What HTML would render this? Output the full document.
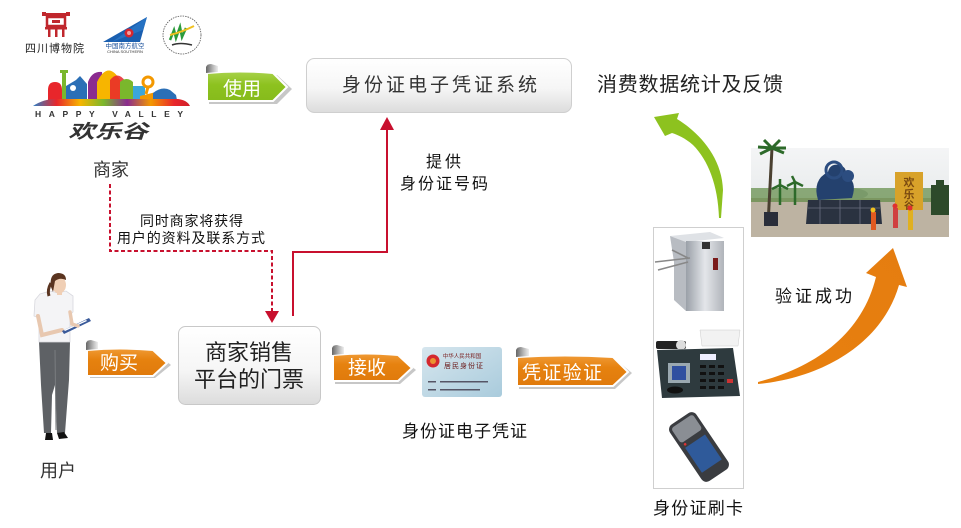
<!DOCTYPE html>
<html><head><meta charset="utf-8">
<style>
html,body{margin:0;padding:0;background:#fff;}
svg{display:block;}
text{font-family:"Liberation Sans","Noto Sans CJK SC",sans-serif;}
</style></head>
<body>
<svg width="961" height="528" viewBox="0 0 961 528" xmlns="http://www.w3.org/2000/svg">
<defs>
  <linearGradient id="boxg" x1="0" y1="0" x2="0" y2="1">
    <stop offset="0" stop-color="#ffffff"/>
    <stop offset="0.55" stop-color="#f6f6f6"/>
    <stop offset="1" stop-color="#dcdcdc"/>
  </linearGradient>
  <linearGradient id="og" x1="0" y1="0" x2="0" y2="1">
    <stop offset="0" stop-color="#f09a35"/>
    <stop offset="0.4" stop-color="#e6820f"/>
    <stop offset="1" stop-color="#e07a0c"/>
  </linearGradient>
  <linearGradient id="gg" x1="0" y1="0" x2="0" y2="1">
    <stop offset="0" stop-color="#a8d24a"/>
    <stop offset="0.45" stop-color="#8dc21f"/>
    <stop offset="1" stop-color="#86bb1c"/>
  </linearGradient>
  <linearGradient id="curl" x1="0" y1="0" x2="1" y2="0">
    <stop offset="0" stop-color="#666"/>
    <stop offset="0.6" stop-color="#bbb"/>
    <stop offset="1" stop-color="#eee"/>
  </linearGradient>
  <linearGradient id="oarrow" x1="0" y1="1" x2="1" y2="0">
    <stop offset="0" stop-color="#e8800e"/>
    <stop offset="1" stop-color="#e57d10"/>
  </linearGradient>
  <linearGradient id="silver" x1="0" y1="0" x2="1" y2="0">
    <stop offset="0" stop-color="#9aa0a8"/>
    <stop offset="0.5" stop-color="#e4e6ea"/>
    <stop offset="1" stop-color="#b0b4ba"/>
  </linearGradient>
  <linearGradient id="card" x1="0" y1="0" x2="1" y2="1">
    <stop offset="0" stop-color="#d6e6ee"/>
    <stop offset="1" stop-color="#a9cbdc"/>
  </linearGradient>
  <linearGradient id="sky" x1="0" y1="0" x2="0" y2="1">
    <stop offset="0" stop-color="#f4f5f6"/>
    <stop offset="1" stop-color="#dfe3e4"/>
  </linearGradient>
  <linearGradient id="hvbar" x1="0" y1="0" x2="1" y2="0">
    <stop offset="0" stop-color="#2b7fc6"/>
    <stop offset="0.15" stop-color="#e8262b"/>
    <stop offset="0.3" stop-color="#f7b500"/>
    <stop offset="0.45" stop-color="#7ab72c"/>
    <stop offset="0.6" stop-color="#8a2b8f"/>
    <stop offset="0.75" stop-color="#f39800"/>
    <stop offset="0.9" stop-color="#e8262b"/>
    <stop offset="1" stop-color="#d0202a"/>
  </linearGradient>
</defs>

<!-- ===== Logos top-left ===== -->
<g fill="#c0272d">
  <rect x="44" y="13" width="24" height="3"/>
  <rect x="42" y="12" width="4" height="4"/>
  <rect x="66" y="12" width="4" height="4"/>
  <rect x="47" y="17" width="18" height="9" fill="none" stroke="#c0272d" stroke-width="2.5"/>
  <rect x="52" y="20" width="8" height="3"/>
  <rect x="45" y="27" width="22" height="2.5"/>
  <rect x="48" y="29" width="2.5" height="8"/>
  <rect x="55" y="29" width="2.5" height="8"/>
  <rect x="62" y="29" width="2.5" height="8"/>
</g>
<text x="55" y="52" font-size="11" text-anchor="middle" fill="#222" letter-spacing="1">四川博物院</text>
<polygon points="103,42 147,17 140,42" fill="#1a5fb0"/>
<polygon points="112,42 147,17 143,30" fill="#2e7fd0" opacity="0.6"/>
<circle cx="129" cy="33" r="4.5" fill="#d7262e"/>
<circle cx="129" cy="33" r="2" fill="#f4a0a0"/>
<text x="125" y="48" font-size="6.5" text-anchor="middle" fill="#1a4f9a">中国南方航空</text>
<text x="125" y="53" font-size="4" text-anchor="middle" fill="#333">CHINA SOUTHERN</text>
<circle cx="182" cy="35" r="19" fill="#fff" stroke="#555" stroke-width="0.8" stroke-dasharray="1.5,1"/>
<path d="M170,40 L174,30 L176,38 L180,27 L182,37 L186,28" stroke="#2c9b3c" stroke-width="2.5" fill="none"/>
<path d="M170,35 Q182,32 194,26" stroke="#f0c020" stroke-width="2" fill="none"/>
<path d="M172,45 Q180,42 192,45" stroke="#333" stroke-width="1.5" fill="none"/>

<!-- Happy Valley logo -->
<g>
  <path d="M48,105 L48,90 Q48,82 55,82 Q62,82 62,90 L62,105 Z" fill="#e8262b"/>
  <rect x="62" y="72" width="4" height="33" fill="#7ab72c"/>
  <rect x="60" y="70" width="8" height="3" fill="#7ab72c"/>
  <path d="M66,105 L66,86 L76,80 L80,76 L87,84 L87,105 Z" fill="#2b6fb6"/>
  <circle cx="73" cy="88" r="3" fill="#fff"/>
  <path d="M88,105 L88,82 Q92,71 102,72 L104,105 Z" fill="#8a2b8f"/>
  <path d="M97,105 L97,82 Q108,60 120,80 L120,105 Z" fill="#f7b500"/>
  <path d="M110,105 L110,80 Q118,70 126,82 L126,105 Z" fill="#e8262b" opacity="0.85"/>
  <path d="M120,105 L120,82 Q126,76 133,82 L133,105 Z" fill="#7ab72c"/>
  <rect x="133" y="86" width="12" height="19" fill="#3aa6dc"/>
  <path d="M140,105 L140,96 L156,92 L156,105 Z" fill="#f39800"/>
  <circle cx="148" cy="82" r="5" fill="none" stroke="#f39800" stroke-width="3"/>
  <path d="M148,87 L146,94" stroke="#f39800" stroke-width="3"/>
  <path d="M153,105 L153,93 Q162,86 170,90 L176,95 L178,105 Z" fill="#2b6fb6"/>
  <path d="M33,106 Q45,98 60,99 L178,99 Q187,100 190,106 Z" fill="url(#hvbar)"/>
</g>
<text x="35" y="117" font-family="Liberation Serif,serif" font-size="8.5" font-weight="bold" fill="#333" textLength="148" lengthAdjust="spacing">HAPPY VALLEY</text>
<text transform="translate(108,138) scale(1.4,1)" x="0" y="0" font-size="19" font-weight="bold" font-style="italic" text-anchor="middle" fill="#333">欢乐谷</text>

<text x="111" y="176" font-size="18" text-anchor="middle" fill="#333">商家</text>

<!-- ===== 使用 tag (green) ===== -->
<g>
  <polygon points="209,75 277,75 292,89 277,104 209,104" fill="#999" opacity="0.55"/>
  <path d="M207,73 Q240,70 273,73 L287,87 L273,101 L207,101 Z" fill="url(#gg)" stroke="#fff" stroke-width="2"/>
  <path d="M206,73 L206,67 Q207,64 211,64 L218,66 L218,72 Z" fill="url(#curl)"/>
  <text x="242" y="95" font-size="19" text-anchor="middle" fill="#fff">使用</text>
</g>

<!-- ===== Top box ===== -->
<rect x="306.5" y="58.5" width="265" height="54" rx="8" fill="url(#boxg)" stroke="#cfcfcf" stroke-width="1"/>
<text x="342" y="91" font-size="19" fill="#333" textLength="195" lengthAdjust="spacing">身份证电子凭证系统</text>

<text x="597" y="91" font-size="20" fill="#222" textLength="186" lengthAdjust="spacing">消费数据统计及反馈</text>

<!-- ===== Red connectors ===== -->
<path d="M110,184 L110,251 L272,251 L272,312" fill="none" stroke="#c8102e" stroke-width="2" stroke-dasharray="4,2.5"/>
<polygon points="265,311 279,311 272,323" fill="#c8102e"/>
<path d="M293,316 L293,252 L387,252 L387,128" fill="none" stroke="#c8102e" stroke-width="2"/>
<polygon points="380,130 394,130 387,117" fill="#c8102e"/>

<text x="426" y="167" font-size="16" fill="#111" textLength="35" lengthAdjust="spacing">提供</text>
<text x="400" y="189" font-size="16" fill="#111" textLength="88" lengthAdjust="spacing">身份证号码</text>

<text x="140" y="226" font-size="14" fill="#111" textLength="103" lengthAdjust="spacing">同时商家将获得</text>
<text x="117" y="243" font-size="14" fill="#111" textLength="148" lengthAdjust="spacing">用户的资料及联系方式</text>

<!-- ===== Person ===== -->
<g>
  <path d="M39,342 L70,342 L69,380 L65,433 L57,433 L55,385 L52,395 L51,433 L44,433 L41,385 Z" fill="#5e6165"/>
  <path d="M55,350 L56,430" stroke="#7a7d80" stroke-width="1"/>
  <path d="M46,433 L52,433 L53,440 L45,440 Z" fill="#111"/>
  <path d="M57,433 L64,432 L68,438 L59,439 Z" fill="#111"/>
  <path d="M40,294 L50,291 L58,293 L66,291 L73,296 L73,312 L70,315 L70,342 L39,342 L39,318 L34,316 L35,300 Z" fill="#f4f4f6" stroke="#d8d8de" stroke-width="0.8"/>
  <path d="M38,316 L42,335 L62,330" stroke="#e8c8b0" stroke-width="4" fill="none" stroke-linecap="round"/>
  <polygon points="62,331 89,318 91,321 64,334" fill="#3a5a9a"/>
  <polygon points="64,330 86,320 87,321 65,331" fill="#fff"/>
  <path d="M70,312 L72,324 L78,326" stroke="#e8c8b0" stroke-width="3.5" fill="none" stroke-linecap="round"/>
  <ellipse cx="59" cy="285" rx="7" ry="8.5" fill="#f0cfb5"/>
  <path d="M51,287 Q49,274 58,273 Q66,273 66,280 Q60,277 55,281 L53,292 Z" fill="#5a3420"/>
  <path d="M51,283 Q47,290 49,296" stroke="#5a3420" stroke-width="3" fill="none"/>
  <rect x="57" y="291" width="5" height="4" fill="#f0cfb5"/>
</g>
<text x="58" y="477" font-size="18" text-anchor="middle" fill="#333">用户</text>

<!-- ===== 购买 tag ===== -->
<g>
  <polygon points="90,352 155,352 171,365 155,378 90,378" fill="#999" opacity="0.55"/>
  <path d="M87,350 Q120,347 153,350 L167,363 L153,376 L87,376 Z" fill="url(#og)" stroke="#fff" stroke-width="2"/>
  <path d="M86,350 L86,343 Q87,340 91,340 L98,342 L98,349 Z" fill="url(#curl)"/>
  <text x="119" y="369" font-size="19" text-anchor="middle" fill="#fff">购买</text>
</g>

<!-- ===== Box 2 ===== -->
<rect x="178.5" y="326.5" width="142" height="78" rx="7" fill="url(#boxg)" stroke="#c8c8c8" stroke-width="1"/>
<text x="249" y="360" font-size="22" text-anchor="middle" fill="#222">商家销售</text>
<text x="249" y="387" font-size="22" text-anchor="middle" fill="#222">平台的门票</text>

<!-- ===== 接收 tag ===== -->
<g>
  <polygon points="335,357 400,357 416,370 400,384 335,384" fill="#999" opacity="0.55"/>
  <path d="M333,355 Q366,352 398,355 L412,368 L398,381 L333,381 Z" fill="url(#og)" stroke="#fff" stroke-width="2"/>
  <path d="M332,355 L332,348 Q333,345 337,345 L344,347 L344,354 Z" fill="url(#curl)"/>
  <text x="367" y="374" font-size="19" text-anchor="middle" fill="#fff">接收</text>
</g>

<!-- ===== ID card ===== -->
<g>
  <rect x="422" y="347" width="80" height="50" rx="3" fill="url(#card)"/>
  <circle cx="433" cy="361" r="6.5" fill="#d4282e"/>
  <circle cx="433" cy="361" r="3" fill="#f5c030" opacity="0.7"/>
  <text x="462" y="358" font-size="5.5" text-anchor="middle" fill="#7a2020">中华人民共和国</text>
  <text x="464" y="368" font-size="7" text-anchor="middle" fill="#6a1818" letter-spacing="1">居民身份证</text>
  <rect x="440" y="381" width="48" height="1.5" fill="#556"/>
  <rect x="440" y="389" width="40" height="1.5" fill="#556"/>
  <rect x="428" y="381" width="8" height="1.5" fill="#556"/>
  <rect x="428" y="389" width="8" height="1.5" fill="#556"/>
</g>
<text x="402" y="437" font-size="17" fill="#111" textLength="125" lengthAdjust="spacing">身份证电子凭证</text>

<!-- ===== 凭证验证 tag ===== -->
<g>
  <polygon points="519,359 615,359 632,373 615,389 519,389" fill="#999" opacity="0.55"/>
  <path d="M517,357 Q565,354 613,357 L628,372 L613,386 L517,386 Z" fill="url(#og)" stroke="#fff" stroke-width="2"/>
  <path d="M516,357 L516,350 Q517,347 521,347 L529,349 L529,356 Z" fill="url(#curl)"/>
  <text x="522" y="379" font-size="19" fill="#fff" textLength="80" lengthAdjust="spacing">凭证验证</text>
</g>

<!-- ===== Devices panel ===== -->
<rect x="653.5" y="227.5" width="90" height="261" fill="#fff" stroke="#cfcfcf" stroke-width="1"/>
<g>
  <polygon points="670,236 710,232 724,238 686,242" fill="#dfe2e6"/>
  <rect x="686" y="241" width="38" height="70" fill="url(#silver)"/>
  <polygon points="670,236 686,242 686,311 674,300 674,262" fill="#b8bcc2"/>
  <rect x="702" y="242" width="8" height="7" fill="#333"/>
  <rect x="713" y="258" width="5" height="12" fill="#7a1a1a"/>
  <path d="M655,262 L690,258 M658,270 L688,262 M672,250 L688,258" stroke="#888" stroke-width="1.6"/>
</g>
<g>
  <polygon points="700,330 740,330 738,346 702,346" fill="#f2f2f2" stroke="#ccc" stroke-width="0.5"/>
  <rect x="656" y="341" width="30" height="8" rx="2" fill="#222"/>
  <circle cx="681" cy="345" r="5" fill="#ddd"/>
  <path d="M657,350 L733,348 L740,396 L662,398 Z" fill="#2e3a3e"/>
  <rect x="700" y="354" width="16" height="6" fill="#eef"/>
  <rect x="668" y="363" width="22" height="20" fill="#9aa8b0"/>
  <rect x="672" y="366" width="14" height="14" fill="#3050a0"/>
  <g fill="#111">
    <rect x="700" y="365" width="6" height="3"/><rect x="709" y="365" width="6" height="3"/><rect x="718" y="365" width="6" height="3"/>
    <rect x="700" y="372" width="6" height="3"/><rect x="709" y="372" width="6" height="3"/><rect x="718" y="372" width="6" height="3"/>
    <rect x="700" y="379" width="6" height="3"/><rect x="709" y="379" width="6" height="3"/><rect x="718" y="379" width="6" height="3"/>
    <rect x="700" y="386" width="6" height="3"/><rect x="709" y="386" width="6" height="3"/><rect x="718" y="386" width="6" height="3"/>
  </g>
  <rect x="727" y="379" width="6" height="4" fill="#c33"/>
  <ellipse cx="675" cy="390" rx="8" ry="3.5" fill="#111"/>
</g>
<!-- handheld -->
<g transform="rotate(-34 699 447)">
  <rect x="683" y="413" width="32" height="68" rx="6" fill="#3a3c40"/>
  <rect x="686" y="416" width="26" height="18" rx="3" fill="#8a8e94"/>
  <rect x="687" y="440" width="24" height="30" fill="#2f5a9a"/>
  <circle cx="689" cy="437" r="1.3" fill="#d33"/>
</g>
<text x="653" y="514" font-size="17" fill="#111" textLength="90" lengthAdjust="spacing">身份证刷卡</text>

<!-- ===== Green curved arrow ===== -->
<path d="M654,117 L679,113 L677,119 C700,133 722,158 723,190 L721,218 L719,218 C718,185 708,160 693,145 C685,138 678,135 672,133 L665,136 Z" fill="#8dc21f"/>

<!-- ===== Photo ===== -->
<g>
  <rect x="751" y="148" width="198" height="89" fill="url(#sky)"/>
  <rect x="751" y="198" width="198" height="39" fill="#bdb3a2"/>
  <rect x="751" y="188" width="198" height="14" fill="#5f8a45" opacity="0.7"/>
  <ellipse cx="848" cy="194" rx="20" ry="6" fill="#7a9a6a"/>
  <path d="M772,148 L768,225" stroke="#4a4030" stroke-width="3"/>
  <path d="M772,148 l-12,6 M772,148 l12,5 M772,148 l-8,-8 M772,148 l8,-8 M772,148 l-14,-1 M772,148 l14,0" stroke="#2d6a2a" stroke-width="3"/>
  <path d="M780,185 l-8,4 M780,185 l8,4 M780,185 l0,-6 M780,185 L780,205" stroke="#2d6a2a" stroke-width="2.5"/>
  <path d="M795,182 l-8,4 M795,182 l8,4 M795,182 l-3,-6 M795,182 L795,205" stroke="#2d6a2a" stroke-width="2.5"/>
  <rect x="764" y="212" width="14" height="14" fill="#2a2e3a"/>
  <path d="M818,200 Q812,180 828,172 Q830,163 840,165 Q848,168 845,176 Q858,180 852,198 Z" fill="#24416e"/>
  <circle cx="834" cy="170" r="8" fill="none" stroke="#2c4d80" stroke-width="3"/>
  <circle cx="848" cy="176" r="6" fill="#2c4d80"/>
  <path d="M808,200 L880,200 L882,224 L806,224 Z" fill="#2a3240"/>
  <path d="M808,208 L880,208 M820,200 L820,224 M840,200 L840,224 M860,200 L860,224" stroke="#6a7080" stroke-width="0.8"/>
  <rect x="895" y="172" width="28" height="38" fill="#d8a22a"/>
  <text x="909" y="186" font-size="11" font-weight="bold" text-anchor="middle" fill="#7a4a10">欢</text>
  <text x="909" y="198" font-size="11" font-weight="bold" text-anchor="middle" fill="#7a4a10">乐</text>
  <text x="909" y="209" font-size="10" font-weight="bold" text-anchor="middle" fill="#7a4a10">谷</text>
  <rect x="931" y="185" width="18" height="30" fill="#2d4a2a"/>
  <rect x="936" y="180" width="8" height="6" fill="#2d4a2a"/>
  <rect x="871" y="212" width="5" height="18" fill="#e05a20"/>
  <rect x="893" y="208" width="5" height="20" fill="#d04040"/>
  <rect x="908" y="210" width="5" height="20" fill="#e0b020"/>
  <circle cx="873" cy="210" r="2.5" fill="#f0c020"/>
  <circle cx="895" cy="206" r="2.5" fill="#e03030"/>
  <circle cx="910" cy="208" r="2.5" fill="#e03030"/>
</g>

<!-- ===== Orange curved arrow ===== -->
<path d="M758,384 C822,378 882,344 899,285 L907,287 L893,248 L866,273 L876,277 C862,334 816,367 758,382 Z" fill="url(#oarrow)"/>

<text x="775" y="302" font-size="17" fill="#111" textLength="77" lengthAdjust="spacing">验证成功</text>

</svg>
</body></html>
